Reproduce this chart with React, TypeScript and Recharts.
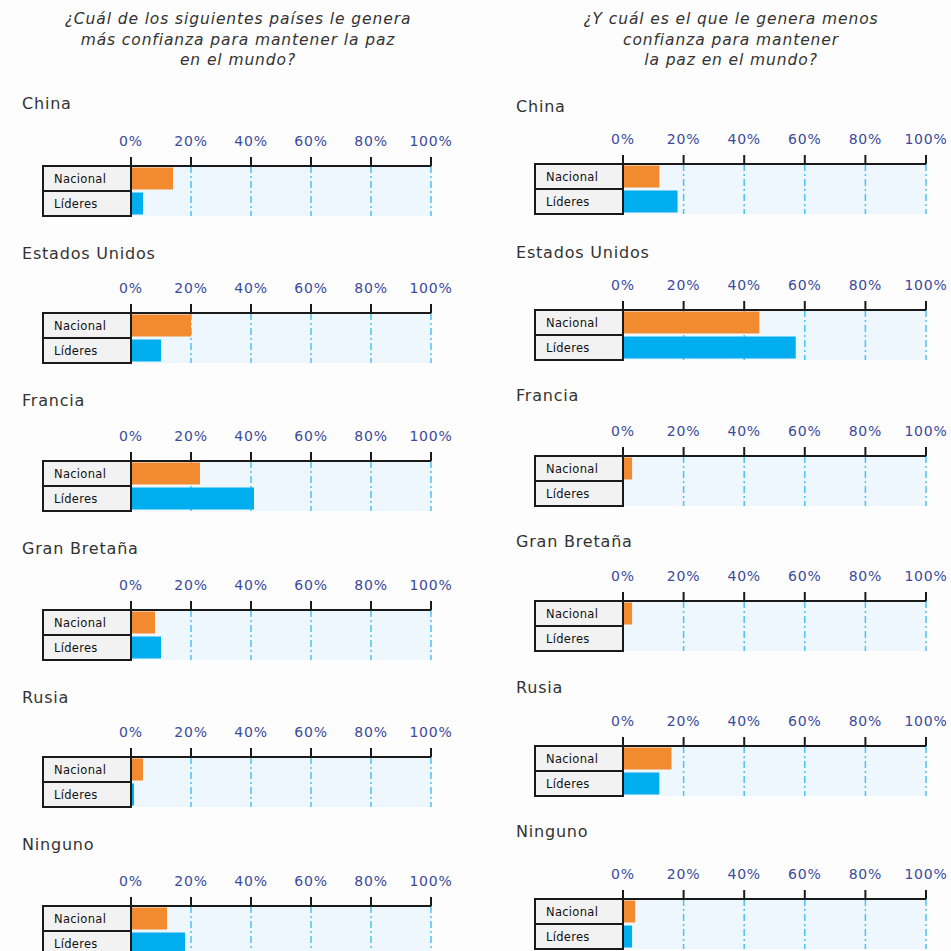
import React from "react";
import { BarChart, Bar, XAxis, YAxis, CartesianGrid, Cell } from "recharts";

// === DATOS ===
const paises = ["China", "Estados Unidos", "Francia", "Gran Bretaña", "Rusia", "Ninguno"];
const grupos = ["Nacional", "Líderes"];
const masNacional = [14, 20, 23, 8, 4, 12];
const masLideres = [4, 10, 41, 10, 1, 18];
const menosNacional = [12, 45, 3, 3, 16, 4];
const menosLideres = [18, 57, 0, 0, 12, 3];
const ticksPct = [0, 20, 40, 60, 80, 100];

const preguntaMas = [
  "¿Cuál de los siguientes países le genera",
  "más confianza para mantener la paz",
  "en el mundo?",
];
const preguntaMenos = [
  "¿Y cuál es el que le genera menos",
  "confianza para mantener",
  "la paz en el mundo?",
];

// === LAYOUT ===
const colores = ["#f28a30", "#00adef"];
const FONT = "'DejaVu Sans', Verdana, sans-serif";
const BOX_W = 88;
const ROW_H = 25;

// y del eje y del título de cada panel
const ejeIzq = [166, 313, 461, 610, 757, 906];
const tituloIzq = [104, 254, 401, 549, 698, 845];
const ejeDer = [164, 310, 456, 601, 746, 899];
const tituloDer = [107, 253, 396, 542, 688, 832];

const CajaTick = (props: any) => {
  const { x, y, payload } = props;
  return (
    <g>
      <rect
        x={x - BOX_W}
        y={y - ROW_H / 2}
        width={BOX_W}
        height={ROW_H}
        fill="#f2f2f2"
        stroke="#1a1a1a"
        strokeWidth={2}
      />
      <text
        x={x - BOX_W + 11}
        y={y + 4}
        fontSize={11.5}
        fontFamily={FONT}
        letterSpacing={0.3}
        fill="#111"
      >
        {payload.value}
      </text>
    </g>
  );
};

type PanelProps = {
  nacional: number;
  lideres: number;
  left: number;
  width: number;
  marginLeft: number;
  plotW: number;
  ejeY: number;
};

const Panel: React.FC<PanelProps> = ({ nacional, lideres, left, width, marginLeft, plotW, ejeY }) => {
  const data = [
    { name: grupos[0], value: nacional },
    { name: grupos[1], value: lideres },
  ];
  const top = 10;
  const axisH = 30;
  const height = top + axisH + ROW_H * 2 + 4;
  return (
    <div style={{ position: "absolute", left, top: ejeY - top - axisH }}>
      <BarChart
        width={width}
        height={height}
        data={data}
        layout="vertical"
        barCategoryGap={1.5}
        margin={{ top, left: marginLeft, right: width - marginLeft - BOX_W - plotW, bottom: 4 }}
      >
        <CartesianGrid
          horizontal={false}
          stroke="#4cc3f2"
          strokeWidth={1.5}
          strokeDasharray="7 3 2 3"
          fill="#eef7fd"
          fillOpacity={1}
        />
        <XAxis
          type="number"
          orientation="top"
          domain={[0, 100]}
          ticks={ticksPct}
          interval={0}
          tickFormatter={(v) => `${v}%`}
          height={axisH}
          tickSize={9}
          tickMargin={11}
          axisLine={{ stroke: "#1a1a1a", strokeWidth: 2 }}
          tickLine={{ stroke: "#1a1a1a", strokeWidth: 2 }}
          tick={{ fill: "#3b4a9c", fontSize: 14, fontFamily: FONT, letterSpacing: 0.8 }}
        />
        <YAxis
          type="category"
          dataKey="name"
          width={BOX_W}
          axisLine={false}
          tickLine={false}
          tickSize={0}
          tickMargin={0}
          tick={<CajaTick />}
        />
        <Bar dataKey="value" isAnimationActive={false}>
          {data.map((d, i) => (
            <Cell key={d.name} fill={colores[i]} />
          ))}
        </Bar>
      </BarChart>
    </div>
  );
};

const Titulo = ({ lineas, cx }: { lineas: string[]; cx: number }) => (
  <div
    style={{
      position: "absolute",
      top: 9,
      left: cx - 230,
      width: 460,
      textAlign: "center",
      fontFamily: FONT,
      fontStyle: "italic",
      fontSize: 15.5,
      letterSpacing: 0.9,
      lineHeight: "20.5px",
      color: "#333",
    }}
  >
    {lineas.map((l) => (
      <div key={l}>{l}</div>
    ))}
  </div>
);

const Pais = ({ nombre, x, y }: { nombre: string; x: number; y: number }) => (
  <div
    style={{
      position: "absolute",
      left: x,
      top: y - 11,
      height: 22,
      lineHeight: "22px",
      fontFamily: FONT,
      fontSize: 16,
      letterSpacing: 0.8,
      color: "#333",
      whiteSpace: "nowrap",
    }}
  >
    {nombre}
  </div>
);

const App: React.FC = () => {
  return (
    <div
      style={{
        position: "absolute",
        left: 0,
        top: 0,
        width: 951,
        height: 951,
        overflow: "hidden",
        background: "#fdfdfd",
      }}
    >
      <Titulo lineas={preguntaMas} cx={238} />
      <Titulo lineas={preguntaMenos} cx={731} />

      {paises.map((p, i) => (
        <React.Fragment key={p}>
          <Pais nombre={p} x={22} y={tituloIzq[i]} />
          <Panel
            nacional={masNacional[i]}
            lideres={masLideres[i]}
            left={0}
            width={475}
            marginLeft={43}
            plotW={300}
            ejeY={ejeIzq[i]}
          />
          <Pais nombre={p} x={516} y={tituloDer[i]} />
          <Panel
            nacional={menosNacional[i]}
            lideres={menosLideres[i]}
            left={475}
            width={476}
            marginLeft={60}
            plotW={303}
            ejeY={ejeDer[i]}
          />
        </React.Fragment>
      ))}
    </div>
  );
};

export default App;
